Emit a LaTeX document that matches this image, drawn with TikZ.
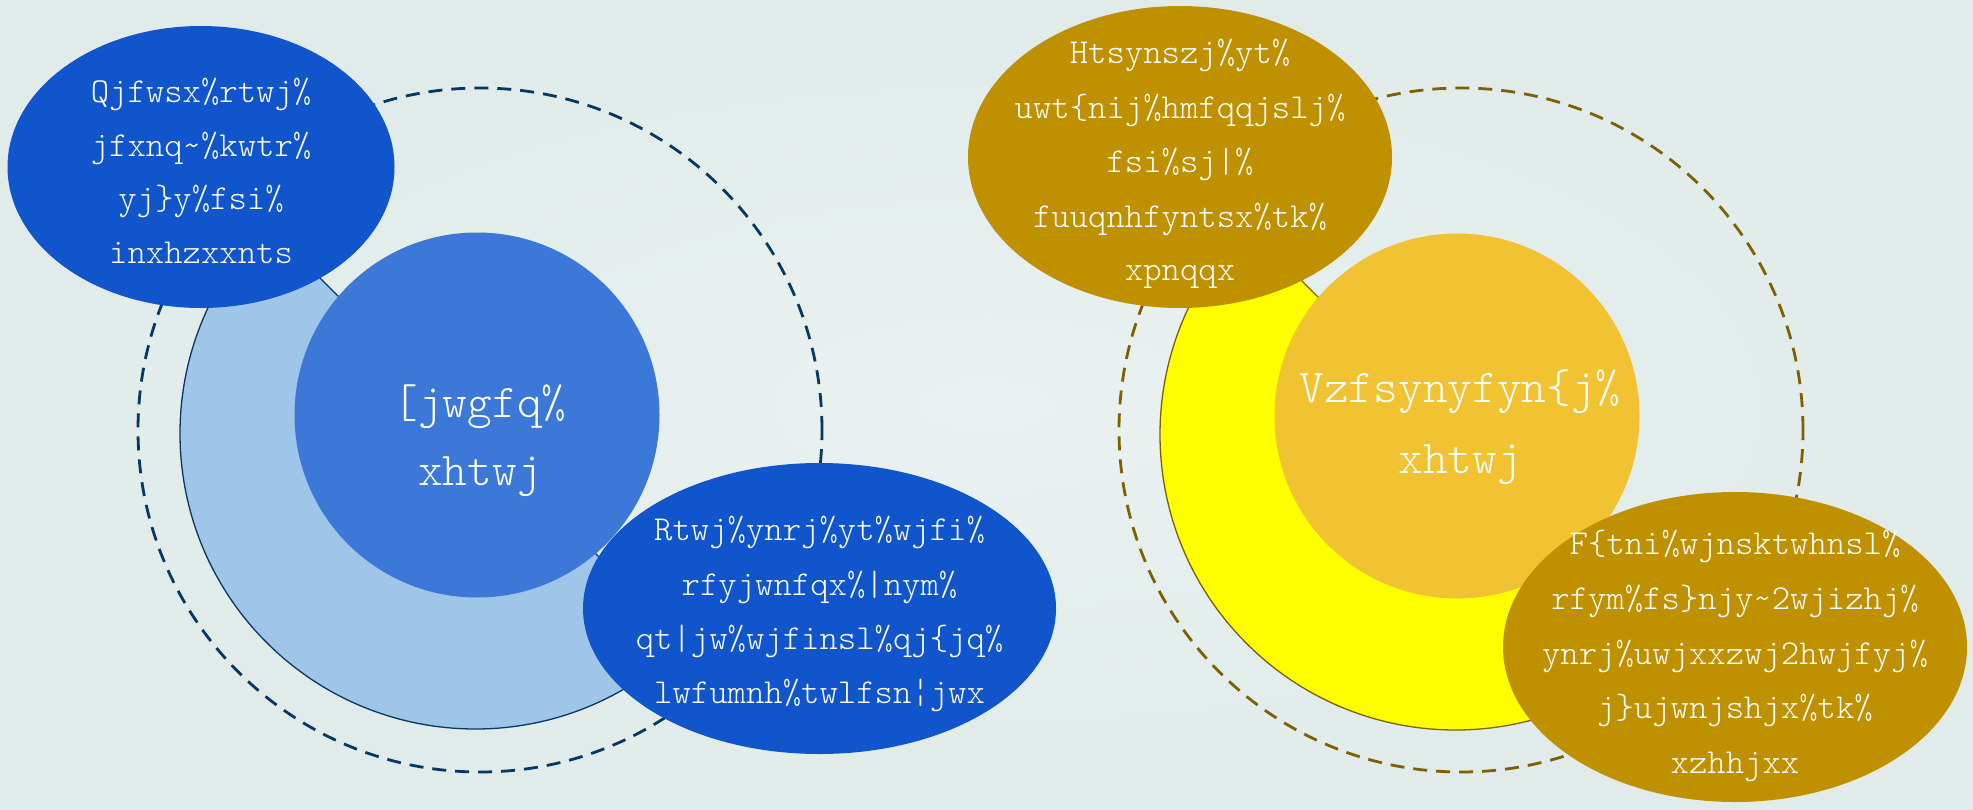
\documentclass[tikz,border=0pt]{standalone}
\usepackage{fontspec}
\usetikzlibrary{shapes.geometric}
\newfontfamily\thinmono{lmmonolt10-regular.otf}

\definecolor{bgin}{HTML}{EAF2F1}
\definecolor{bgout}{HTML}{E0EBEA}
\definecolor{deepblue}{HTML}{1155CC}
\definecolor{midblue}{HTML}{3C78D8}
\definecolor{paleblue}{HTML}{9FC5E8}
\definecolor{navy}{HTML}{073763}
\definecolor{darkgold}{HTML}{BF9000}
\definecolor{softgold}{HTML}{F1C232}
\definecolor{brightyellow}{HTML}{FFFF00}
\definecolor{olivebrown}{HTML}{7F6000}

\tikzset{
  ring/.style={circle, inner sep=0pt, line width=2.8pt, dash pattern=on 14pt off 9pt},
  half/.style={line width=1.3pt},
  blob/.style={ellipse, inner sep=0pt, draw=none},
  disc/.style={circle, inner sep=0pt, draw=none},
  smalltext/.style={anchor=base, inner sep=0pt, text=white,
    font=\fontsize{35pt}{42pt}\selectfont\thinmono},
  bigtext/.style={anchor=base, inner sep=0pt, text=white,
    font=\fontsize{47pt}{56pt}\selectfont\thinmono},
}

\begin{document}
\begin{tikzpicture}[x=1pt,y=1pt]
\useasboundingbox (0,0) rectangle (1973,-809);
\shade[inner color=bgin, outer color=bgout] (0,0) rectangle (1973,-809);

% ---------- left group ----------
\node[ring, draw=navy, minimum size=684pt] (lring) at (480,-430) {};
\coordinate (lhalf) at (475.5,-433.5);
\filldraw[half, fill=paleblue, draw=navy]
  (lhalf) ++(135:295.5pt) arc[start angle=135, end angle=315, radius=295.5pt] -- cycle;
\node[disc, fill=midblue, minimum size=365pt] (lcore) at (477,-415) {};
\node[blob, fill=deepblue, minimum width=387pt, minimum height=282pt] (ltop) at (201,-167) {};
\node[blob, fill=deepblue, minimum width=473pt, minimum height=291pt] (lbot) at (819.5,-608.5) {};

\foreach \b/\t [count=\i] in {102/{Qjfwsx\%rtwj\%}, 156/{jfxnq\textasciitilde\%kwtr\%},
    209/{yj\}y\%fsi\%}, 263/{inxhzxxnts}}
  \node[smalltext] (ltop-\i) at (201,-\b) {\t};

\foreach \b/\t [count=\i] in {417/{[jwgfq\%}, 485/{xhtwj}}
  \node[bigtext] (lcore-\i) at (480,-\b) {\t};

\foreach \b/\t [count=\i] in {540/{Rtwj\%ynrj\%yt\%wjfi\%}, 595/{rfyjwnfqx\%|nym\%},
    649/{qt|jw\%wjfinsl\%qj\{jq\%}, 703/{lwfumnh\%twlfsn¦jwx}}
  \node[smalltext] (lbot-\i) at (819.5,-\b) {\t};

% ---------- right group ----------
\node[ring, draw=olivebrown, minimum size=684pt] (rring) at (1461,-430) {};
\coordinate (rhalf) at (1455.5,-434.5);
\filldraw[half, fill=brightyellow, draw=olivebrown]
  (rhalf) ++(135:295.5pt) arc[start angle=135, end angle=315, radius=295.5pt] -- cycle;
\node[disc, fill=softgold, minimum size=365pt] (rcore) at (1457,-416) {};
\node[blob, fill=darkgold, minimum width=424pt, minimum height=302pt] (rtop) at (1180,-157) {};
\node[blob, fill=darkgold, minimum width=464pt, minimum height=310pt] (rbot) at (1735,-647) {};

\foreach \b/\t [count=\i] in {63/{Htsynszj\%yt\%}, 118/{uwt\{nij\%hmfqqjslj\%},
    172/{fsi\%sj|\%}, 227/{fuuqnhfyntsx\%tk\%}, 280/{xpnqqx}}
  \node[smalltext] (rtop-\i) at (1180,-\b) {\t};

\foreach \b/\t [count=\i] in {402/{Vzfsynyfyn\{j\%}, 473/{xhtwj}}
  \node[bigtext] (rcore-\i) at (1460,-\b) {\t};

\foreach \b/\t [count=\i] in {554/{F\{tni\%wjnsktwhnsl\%}, 609/{rfym\%fs\}njy\textasciitilde2wjizhj\%},
    664/{ynrj\%uwjxxzwj2hwjfyj\%}, 718/{j\}ujwnjshjx\%tk\%}, 773/{xzhhjxx}}
  \node[smalltext] (rbot-\i) at (1735,-\b) {\t};
\end{tikzpicture}
\end{document}
